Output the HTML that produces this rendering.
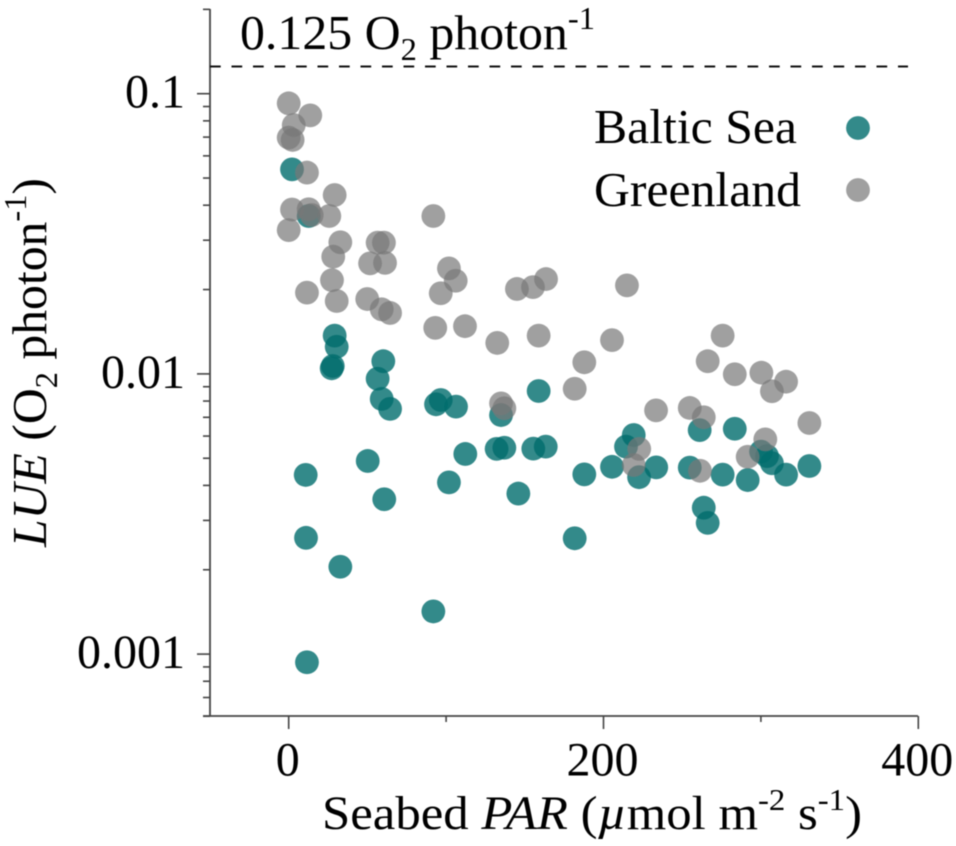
<!DOCTYPE html>
<html>
<head>
<meta charset="utf-8">
<title>LUE vs Seabed PAR</title>
<style>
html,body{margin:0;padding:0;background:#fff;width:956px;height:846px;overflow:hidden}
svg{display:block;filter:blur(0.45px)}
text{font-family:"Liberation Serif",serif;fill:#000}
</style>
</head>
<body>
<svg id="chart" xmlns="http://www.w3.org/2000/svg" width="956" height="846" viewBox="0 0 956 846">
  <g id="minor-ticks"></g>
  <line x1="210" y1="9" x2="210" y2="716" stroke="#444" stroke-width="1.8"/>
  <line x1="203" y1="716" x2="918" y2="716" stroke="#444" stroke-width="1.8"/>
  <g id="tick-labels"></g>
  <g id="marks"></g>
  <line id="ref-line" x1="210" x2="908" stroke="#111" stroke-width="2" stroke-dasharray="10.7 10.8"/>
  <text x="240" y="49" font-size="49" textLength="355" lengthAdjust="spacingAndGlyphs">0.125 O<tspan font-size="32" dy="11">2</tspan><tspan dy="-11"> photon</tspan><tspan font-size="32" dy="-20">-1</tspan></text>
  <text transform="translate(46,547) rotate(-90)" font-size="49" textLength="369" lengthAdjust="spacingAndGlyphs"><tspan font-style="italic">LUE</tspan> (O<tspan font-size="32" dy="11">2</tspan><tspan dy="-11"> photon</tspan><tspan font-size="32" dy="-20">-1</tspan><tspan dy="20">)</tspan></text>
  <text x="322" y="829" font-size="48" textLength="540" lengthAdjust="spacingAndGlyphs">Seabed <tspan font-style="italic">PAR</tspan> (<tspan font-style="italic">µ</tspan>mol m<tspan font-size="31" dy="-19">-2</tspan><tspan dy="19"> s</tspan><tspan font-size="31" dy="-19">-1</tspan><tspan dy="19">)</tspan></text>
  <g>
    <text x="594" y="143" font-size="49" textLength="203" lengthAdjust="spacingAndGlyphs">Baltic Sea</text>
    <circle cx="858" cy="128" r="11.9" fill="#006d6d" fill-opacity="0.8"/>
    <text x="594" y="206" font-size="49" textLength="207" lengthAdjust="spacingAndGlyphs">Greenland</text>
    <circle cx="858" cy="190" r="11.9" fill="#777" fill-opacity="0.7"/>
  </g>
</svg>
<script>
const balticPar = [2.1,12.7,29.2,30.5,28,27.3,60.1,56.5,59.1,64.4,93.6,96.6,106.3,50.2,10.8,60.7,112.2,101.8,11,32.8,91.9,11.6,158.8,134.9,132.1,137,155.4,163.3,187.8,205.4,145.9,219.2,214.3,233.5,222.6,254.8,261.1,283.4,275.7,291.6,300.1,303.9,307,316,330.8,263.7,266.2,181.7];
const balticLue = [0.0537,0.0366,0.0137,0.0125,0.01067,0.01047,0.0111,0.00961,0.00814,0.0075,0.00779,0.00807,0.00764,0.00489,0.00436,0.00357,0.00518,0.0041,0.0026,0.00205,0.00142,0.000935,0.00869,0.00713,0.0054,0.00545,0.00541,0.0055,0.00438,0.00466,0.00374,0.00605,0.0055,0.00464,0.00428,0.00463,0.0063,0.00637,0.00437,0.00418,0.00528,0.00509,0.0048,0.00437,0.00469,0.00333,0.00294,0.00259];
const greenlandPar = [0,13.7,3.2,0,2.5,11.6,29.2,2.1,12.7,14.6,25.8,0,91.9,32.8,28.3,56.5,60.5,51.7,61.2,27.5,11.6,30.5,49.9,59.1,64.4,101.8,106.1,96.6,93.1,112,132.5,158.8,205.4,187.8,181.7,275.7,266.2,283.4,300.3,316,307,330.8,233.4,254.8,263.7,302.8,291.6,222.7,219.2,261.3,134.9,137,145,155.2,163.5,214.9];
const greenlandLue = [0.0924,0.0837,0.0773,0.0697,0.0684,0.0523,0.0435,0.0386,0.0387,0.0369,0.0366,0.0326,0.0366,0.0295,0.0262,0.0294,0.0294,0.0248,0.0249,0.0216,0.0195,0.0182,0.0185,0.017,0.0165,0.0238,0.0215,0.0194,0.0146,0.0148,0.0129,0.0137,0.0132,0.011,0.00885,0.0137,0.0111,0.00997,0.0101,0.00938,0.00867,0.00668,0.00741,0.00756,0.007,0.00584,0.00506,0.0054,0.00473,0.00451,0.00785,0.00754,0.0201,0.0204,0.0218,0.0207];
const referenceLue = 0.125;
const xMajorTicks = [0,200,400];
const xMinorTicks = [100,300];
const xTickLabels = ["0","200","400"];
const yMajorTicks = [0.1,0.01,0.001];
const yMinorTicks = [0.2,0.09,0.08,0.07,0.06,0.05,0.04,0.03,0.02,0.009,0.008,0.007,0.006,0.005,0.004,0.003,0.002,0.0009,0.0008,0.0007,0.0006];
const yTickLabels = ["0.1","0.01","0.001"];

const NS = "http://www.w3.org/2000/svg";
const xScale = v => 288.7 + v * 1.574;
const yScale = v => 93.7 + (-1 - Math.log10(v)) * 280.2;

function makeLine(parent, x1, y1, x2, y2) {
  const l = document.createElementNS(NS, "line");
  l.setAttribute("x1", x1);
  l.setAttribute("y1", y1);
  l.setAttribute("x2", x2);
  l.setAttribute("y2", y2);
  l.setAttribute("stroke", "#444");
  l.setAttribute("stroke-width", "1.6");
  parent.appendChild(l);
  return l;
}
function makeLabel(parent, x, y, anchor, str) {
  const t = document.createElementNS(NS, "text");
  t.setAttribute("x", x);
  t.setAttribute("y", y);
  t.setAttribute("text-anchor", anchor);
  t.setAttribute("font-size", "48");
  t.textContent = str;
  parent.appendChild(t);
  return t;
}

const tickGroup = document.getElementById("minor-ticks");
const labelGroup = document.getElementById("tick-labels");

yMajorTicks.forEach((v, i) => {
  const tick = makeLine(tickGroup, 197, yScale(v), 210, yScale(v));
  
  
  const label = makeLabel(labelGroup, 185, yScale(v) + 14, "end", yTickLabels[i]);
  
  
});
yMinorTicks.forEach(v => {
  const tick = makeLine(tickGroup, 203, yScale(v), 210, yScale(v));
  
  
});
xMajorTicks.forEach((v, i) => {
  const tick = makeLine(tickGroup, xScale(v), 716, xScale(v), 729);
  
  
  const label = makeLabel(labelGroup, xScale(v) - 1, 775.5, "middle", xTickLabels[i]);
  
  
});
xMinorTicks.forEach(v => {
  const tick = makeLine(tickGroup, xScale(v), 716, xScale(v), 722);
  
  
});

const refLine = document.getElementById("ref-line");
refLine.setAttribute("y1", yScale(referenceLue));
refLine.setAttribute("y2", yScale(referenceLue));

const markGroup = document.getElementById("marks");
function makePoint(par, lue, fill, opacity) {
  const c = document.createElementNS(NS, "circle");
  c.setAttribute("cx", xScale(par));
  c.setAttribute("cy", yScale(lue));
  c.setAttribute("r", "11.9");
  c.setAttribute("fill", fill);
  c.setAttribute("fill-opacity", opacity);
  markGroup.appendChild(c);
  return c;
}
balticPar.forEach((p, i) => {
  const pt = makePoint(p, balticLue[i], "#006d6d", "0.8");
  
  
});
greenlandPar.forEach((p, i) => {
  const pt = makePoint(p, greenlandLue[i], "#777", "0.7");
  
  
});
</script>
</body>
</html>
